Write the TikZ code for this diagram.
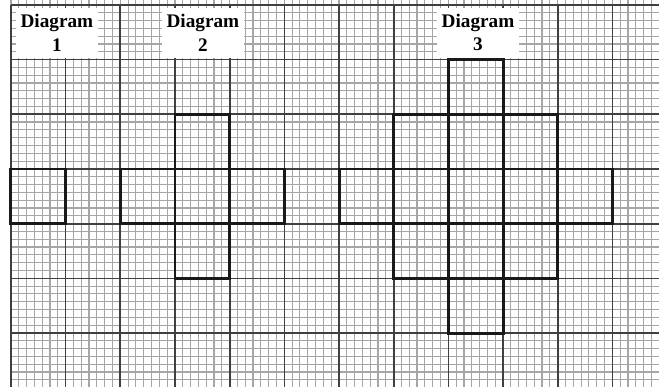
\documentclass[tikz,border=0pt]{standalone}
\usepackage{fontspec}
\setmainfont{Liberation Serif}

\tikzset{
  minorline/.style={black!35, line width=0.6pt},
  majorline/.style={black!75, line width=0.9pt},
  shapeline/.style={black!90, line width=1.5pt},
  labelbox/.style={fill=white, align=center, inner sep=0pt,
    minimum width=1.5cm, minimum height=0.92cm,
    font=\fontsize{10}{12}\selectfont\bfseries}
}

\begin{document}
\begin{tikzpicture}
    % Variables for the paper size
    \def\paperwidth{11.85}
    \def\paperheight{7}

    % Fix the margins of the page
    \useasboundingbox (-0.2,-6.98) rectangle (\paperwidth,0.09);
    \clip (-0.2,-6.98) rectangle (\paperwidth,0.09);

    % Draw the graph paper
    \draw[minorline, step=0.1428] (0,-\paperheight) grid (\paperwidth,0.09);
    \draw[majorline, step=1] (0,-\paperheight) grid (\paperwidth,0);

    % Diagram 1
    \draw[shapeline] (0,-4) rectangle (1,-3);

    % Diagram 2
    \foreach \cx/\cy in {3/-3, 2/-4, 3/-4, 4/-4, 3/-5}
        \draw[shapeline] (\cx,\cy) rectangle ++(1,1);

    % Diagram 3
    \foreach \cx/\cy in {8/-2, 7/-3, 8/-3, 9/-3, 6/-4, 7/-4, 8/-4, 9/-4, 10/-4,
                         7/-5, 8/-5, 9/-5, 8/-6}
        \draw[shapeline] (\cx,\cy) rectangle ++(1,1);

    % Labels for the diagrams
    \node[labelbox] (label1) at (0.84,-0.51) {Diagram\\1};
    \node[labelbox] (label2) at (3.51,-0.51) {Diagram\\2};
    \node[labelbox] (label3) at (8.54,-0.51) {Diagram\\3};

\end{tikzpicture}
\end{document}
